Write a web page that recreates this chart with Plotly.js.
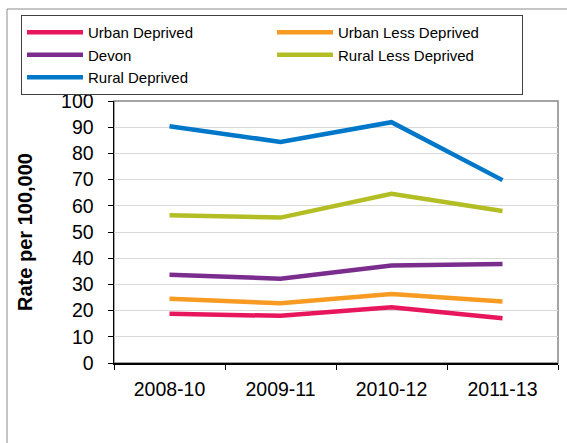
<!DOCTYPE html>
<html>
<head>
<meta charset="utf-8">
<script src="https://cdn.plot.ly/plotly-3.0.1.min.js"></script>
<style>html,body{margin:0;padding:0;background:#fff;}#chart{width:567px;height:443px;}</style>
</head>
<body>
<div id="chart"></div>
<script>
const periods = ["2008-10", "2009-11", "2010-12", "2011-13"];
const urbanDeprived = [18.8, 18.0, 21.3, 17.1];
const urbanLessDeprived = [24.5, 22.8, 26.3, 23.5];
const devon = [33.7, 32.2, 37.2, 37.8];
const ruralLessDeprived = [56.4, 55.5, 64.6, 58.0];
const ruralDeprived = [90.4, 84.4, 91.9, 69.8];
const seriesNames = ["Urban Deprived", "Urban Less Deprived", "Devon", "Rural Less Deprived", "Rural Deprived"];
const seriesColors = ["#E8175D", "#F79B23", "#7B2D8E", "#B3BE24", "#0077C8"];
const seriesValues = [urbanDeprived, urbanLessDeprived, devon, ruralLessDeprived, ruralDeprived];

const traces = seriesValues.map((vals, i) => ({
  x: periods, y: vals, type: "scatter", mode: "lines", name: seriesNames[i],
  line: {color: seriesColors[i], width: 4.5}
}));

const L = 114, R = 558, T = 101, B = 363;
const W = R - L, H = B - T;
const px = v => (v - L) / W;
const py = v => (B - v) / H;

const layout = {
  width: 567, height: 443,
  margin: {l: L, r: 567 - R, t: T, b: 443 - B, pad: 0},
  paper_bgcolor: "#fff", plot_bgcolor: "#fff",
  font: {family: "Liberation Sans, Arial, sans-serif", color: "#000"},
  showlegend: true,
  legend: {
    orientation: "h", x: px(21), xanchor: "left", y: py(15), yanchor: "top",
    bordercolor: "#404040", borderwidth: 1, bgcolor: "#fff",
    itemwidth: 56, entrywidth: 179, entrywidthmode: "pixels",
    font: {size: 15, family: "Liberation Sans, Arial, sans-serif", color: "#000"},
    traceorder: "normal", tracegroupgap: 0
  },
  xaxis: {
    type: "category", range: [-0.5, 3.5], tickson: "boundaries", ticks: "outside", ticklen: 5, tickcolor: "#000",
    showline: true, linecolor: "#000", linewidth: 1.5, showgrid: false, zeroline: false,
    tickfont: {size: 19.5, color: "#000"}, ticklabelstandoff: 8, fixedrange: true
  },
  yaxis: {
    range: [0, 100], dtick: 10, ticks: "outside", ticklen: 5, tickcolor: "#000",
    showline: true, linecolor: "#000", linewidth: 1.5,
    showgrid: true, gridcolor: "#d9d9d9", gridwidth: 1, zeroline: false,
    tickfont: {size: 19.5, color: "#000"}, ticklabelstandoff: 10,
    title: {text: "Rate per 100,000", font: {size: 20, color: "#000", weight: "bold"}, standoff: 23},
    automargin: false, fixedrange: true
  },
  shapes: [
    {type: "rect", xref: "paper", yref: "paper", x0: 0, x1: 1, y0: 0, y1: 1,
     line: {color: "#868686", width: 1.5}, layer: "below"},
    {type: "rect", xref: "paper", yref: "paper", x0: px(7), x1: px(700), y0: py(700), y1: py(9),
     line: {color: "#8c8c8c", width: 1}, layer: "below"}
  ]
};

Plotly.newPlot("chart", traces, layout, {staticPlot: true, displayModeBar: false});
</script>
</body>
</html>
